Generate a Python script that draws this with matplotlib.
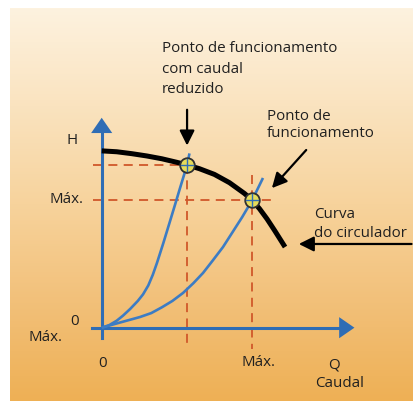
import numpy as np
import matplotlib
matplotlib.use("Agg")
import matplotlib.pyplot as plt
from matplotlib.colors import LinearSegmentedColormap

plt.rcParams['font.family'] = ['Open Sans', 'DejaVu Sans']

# curves in relative units (Q = caudal, H = altura), Máx. = 1
pump_q = [0.0, 0.1, 0.2, 0.3, 0.4, 0.5, 0.568, 0.65, 0.75, 0.85, 0.95, 1.0, 1.05, 1.1, 1.15, 1.22]
pump_h = [1.39, 1.383, 1.368, 1.350, 1.328, 1.300, 1.279, 1.250, 1.205, 1.140, 1.055, 1.004,
          0.935, 0.855, 0.765, 0.634]

steep_q = [0.0, 0.05, 0.10, 0.142, 0.19, 0.24, 0.275, 0.31, 0.34, 0.368, 0.41, 0.454, 0.49,
           0.521, 0.568, 0.584]
steep_h = [0.0, 0.02, 0.055, 0.095, 0.148, 0.21, 0.262, 0.332, 0.416, 0.51, 0.665, 0.835, 0.975,
           1.097, 1.279, 1.37]

flat_q = [0.0, 0.06, 0.12, 0.255, 0.33, 0.40, 0.47, 0.541, 0.61, 0.674, 0.74, 0.807, 0.87,
          0.935, 1.0, 1.073]
flat_h = [0.0, 0.02, 0.04, 0.084, 0.115, 0.16, 0.21, 0.273, 0.35, 0.430, 0.53, 0.634, 0.75,
          0.87, 1.0, 1.177]

op_q = [0.568, 1.0]
op_h = [1.279, 1.004]

W, H = 414, 403
fig = plt.figure(figsize=(W / 100, H / 100), dpi=100, facecolor="white")
ax = fig.add_axes([0, 0, 1, 1])
x0, x1 = -0.6766, 2.0778
y0, y1 = -0.592, 2.576
ax.set_xlim(x0, x1)
ax.set_ylim(y0, y1)
ax.axis("off")

# background gradient (white strip left and top, like the scan)
bg = LinearSegmentedColormap.from_list("bg", ["#fdf2df", "#fae3bf", "#f7d39c", "#f2c079", "#eeb055"])
grad = np.linspace(0, 1, 256).reshape(-1, 1)
bx0 = x0 + 10 / W * (x1 - x0)
by1 = y1 - 8 / H * (y1 - y0)
by0 = y0 + 2 / H * (y1 - y0)
ax.imshow(grad, cmap=bg, extent=[bx0, x1, by0, by1], aspect="auto", zorder=0, origin="upper")

blue = "#2f6db5"
red = "#d0582a"
dark = "#202020"

# dashed guide lines
dash = dict(color=red, lw=1.3, ls=(0, (5, 3.5)), zorder=2)
ax.plot([-0.06, op_q[0]], [op_h[0], op_h[0]], **dash)
ax.plot([op_q[0], op_q[0]], [op_h[0], -0.17], **dash)
ax.plot([-0.06, 1.13], [op_h[1], op_h[1]], **dash)
ax.plot([op_q[1], op_q[1]], [1.2, -0.17], **dash)

# axes with arrows
ax.plot([0, 0], [-0.08, 1.58], color=blue, lw=2.2, zorder=3)
ax.plot([-0.065, 1.62], [0, 0], color=blue, lw=2.2, zorder=3)
head = dict(arrowstyle="-|>,head_length=0.55,head_width=0.38", color=blue, lw=0, mutation_scale=20)
ax.annotate("", xy=(0, 1.672), xytext=(0, 1.5), arrowprops=head, zorder=4)
ax.annotate("", xy=(1.70, 0), xytext=(1.55, 0), arrowprops=head, zorder=4)

# system curves
ax.plot(steep_q, steep_h, color="#3c7cc4", lw=1.9, zorder=3, solid_capstyle="butt")
ax.plot(flat_q, flat_h, color="#3c7cc4", lw=1.9, zorder=3, solid_capstyle="butt")

# pump curve
ax.plot(pump_q, pump_h, color="black", lw=3.6, zorder=5, solid_capstyle="butt")

# operating points
ax.scatter(op_q, op_h, s=110, facecolor="#e6dc5a", edgecolor="#303030", lw=1.3, zorder=6)
for q, h in zip(op_q, op_h):
    ax.plot([q - 0.04, q + 0.04], [h, h], color=blue, lw=1.0, zorder=7)
    ax.plot([q, q], [h - 0.045, h + 0.045], color=blue, lw=1.0, zorder=7)

# annotation arrows
arw = dict(arrowstyle="-|>,head_length=0.5,head_width=0.25", color="black", lw=1.6, mutation_scale=18)
ax.annotate("", xy=(0.568, 1.41), xytext=(0.568, 1.735), arrowprops=arw, zorder=8)
ax.annotate("", xy=(1.12, 1.081), xytext=(1.373, 1.413), arrowprops=arw, zorder=8)
ax.annotate("", xy=(1.293, 0.658), xytext=(2.08, 0.658), arrowprops=arw, zorder=8)

# texts
fs = 10.9
tk = dict(color=dark, fontsize=fs)
for txt, hh in zip(["Ponto de funcionamento", "com caudal", "reduzido"], [2.170, 2.002, 1.845]):
    ax.text(0.399, hh, txt, ha="left", va="baseline", **tk)
for txt, hh in zip(["Ponto de", "funcionamento"], [1.633, 1.502]):
    ax.text(1.098, hh, txt, ha="left", va="baseline", **tk)
for txt, hh in zip(["Curva", "do circulador"], [0.862, 0.713]):
    ax.text(1.412, hh, txt, ha="left", va="baseline", **tk)

ax.text(-0.198, 1.468, "H", ha="center", va="center", **tk)
ax.text(-0.124, 1.004, "Máx.", ha="right", va="center", **tk)
ax.text(-0.178, 0.045, "0", ha="center", va="center", **tk)
ax.text(-0.371, -0.081, "Máx.", ha="center", va="center", **tk)
ax.text(0.009, -0.285, "0", ha="center", va="center", **tk)
ax.text(1.04, -0.277, "Máx.", ha="center", va="center", **tk)
ax.text(1.545, -0.293, "Q", ha="center", va="center", **tk)
ax.text(1.585, -0.435, "Caudal", ha="center", va="center", **tk)

fig.savefig("out.png", dpi=100, facecolor="white")
